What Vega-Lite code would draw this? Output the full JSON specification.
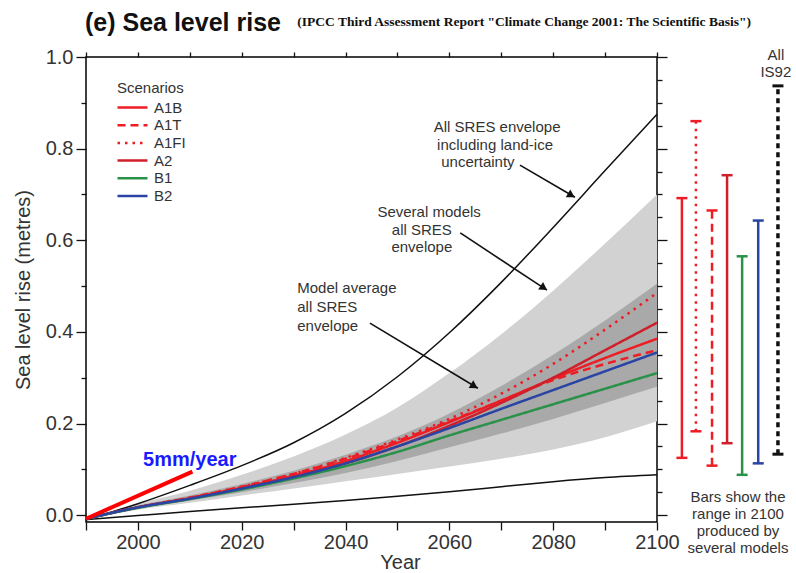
{
  "$schema": "https://vega.github.io/schema/vega-lite/v6.json",
  "width": 571,
  "height": 465,
  "autosize": {"type": "none"},
  "padding": {"left": 86, "top": 57, "right": 139, "bottom": 51},
  "background": "white",
  "title": {"text": "(e) Sea level rise", "anchor": "start", "frame": "group", "orient": "top", "font": "Liberation Sans", "fontSize": 25, "fontWeight": "bold", "color": "#111", "offset": -21, "dx": -1},
  "config": {
    "view": {"stroke": "#000", "strokeWidth": 1.5},
    "font": "Liberation Sans",
    "axis": {"grid": false, "domain": false, "labelFont": "Liberation Sans", "labelFontSize": 20, "labelColor": "#333", "titleFont": "Liberation Sans", "titleFontSize": 20, "titleFontWeight": "normal", "titleColor": "#333", "tickColor": "#111", "tickWidth": 1.3, "labelOverlap": false, "labelFlush": false, "labelBound": false},
    "legend": {"padding": 0, "symbolType": "M-3,0H3", "symbolSize": 100, "symbolStrokeWidth": 2.5, "labelFont": "Liberation Sans", "labelFontSize": 15, "labelColor": "#333", "titleFont": "Liberation Sans", "titleFontSize": 15, "titleFontWeight": "normal", "titleColor": "#333", "rowPadding": 1.7, "titlePadding": 4, "labelOffset": 14, "symbolOffset": 8}
  },
  "datasets": {
    "env": [
      {"year": 1990, "lightLo": -0.008, "lightHi": -0.008, "darkLo": -0.008, "darkHi": -0.008, "lo": -0.01, "hi": -0.01},
      {"year": 2000, "lightLo": 0.012, "lightHi": 0.025, "darkLo": 0.015, "darkHi": 0.021, "lo": -0.001, "hi": 0.025},
      {"year": 2010, "lightLo": 0.027, "lightHi": 0.053, "darkLo": 0.032, "darkHi": 0.043, "lo": 0.008, "hi": 0.065},
      {"year": 2020, "lightLo": 0.043, "lightHi": 0.088, "darkLo": 0.05, "darkHi": 0.068, "lo": 0.016, "hi": 0.108},
      {"year": 2030, "lightLo": 0.058, "lightHi": 0.128, "darkLo": 0.07, "darkHi": 0.097, "lo": 0.024, "hi": 0.158},
      {"year": 2040, "lightLo": 0.074, "lightHi": 0.176, "darkLo": 0.092, "darkHi": 0.132, "lo": 0.032, "hi": 0.222},
      {"year": 2050, "lightLo": 0.09, "lightHi": 0.235, "darkLo": 0.118, "darkHi": 0.172, "lo": 0.041, "hi": 0.302},
      {"year": 2060, "lightLo": 0.106, "lightHi": 0.31, "darkLo": 0.148, "darkHi": 0.222, "lo": 0.051, "hi": 0.398},
      {"year": 2070, "lightLo": 0.123, "lightHi": 0.395, "darkLo": 0.178, "darkHi": 0.282, "lo": 0.062, "hi": 0.508},
      {"year": 2080, "lightLo": 0.143, "lightHi": 0.49, "darkLo": 0.21, "darkHi": 0.35, "lo": 0.073, "hi": 0.628},
      {"year": 2090, "lightLo": 0.17, "lightHi": 0.593, "darkLo": 0.245, "darkHi": 0.425, "lo": 0.082, "hi": 0.752},
      {"year": 2100, "lightLo": 0.205, "lightHi": 0.7, "darkLo": 0.28, "darkHi": 0.505, "lo": 0.088, "hi": 0.875}
    ],
    "scen": [
      {"scenario": "A1B", "year": 1990, "value": -0.008}, {"scenario": "A1B", "year": 2000, "value": 0.017}, {"scenario": "A1B", "year": 2010, "value": 0.037}, {"scenario": "A1B", "year": 2020, "value": 0.06}, {"scenario": "A1B", "year": 2030, "value": 0.086}, {"scenario": "A1B", "year": 2040, "value": 0.118}, {"scenario": "A1B", "year": 2050, "value": 0.158}, {"scenario": "A1B", "year": 2060, "value": 0.203}, {"scenario": "A1B", "year": 2070, "value": 0.25}, {"scenario": "A1B", "year": 2080, "value": 0.298}, {"scenario": "A1B", "year": 2090, "value": 0.343}, {"scenario": "A1B", "year": 2100, "value": 0.385},
      {"scenario": "A1T", "year": 1990, "value": -0.008}, {"scenario": "A1T", "year": 2000, "value": 0.017}, {"scenario": "A1T", "year": 2010, "value": 0.038}, {"scenario": "A1T", "year": 2020, "value": 0.062}, {"scenario": "A1T", "year": 2030, "value": 0.09}, {"scenario": "A1T", "year": 2040, "value": 0.123}, {"scenario": "A1T", "year": 2050, "value": 0.162}, {"scenario": "A1T", "year": 2060, "value": 0.205}, {"scenario": "A1T", "year": 2070, "value": 0.25}, {"scenario": "A1T", "year": 2080, "value": 0.295}, {"scenario": "A1T", "year": 2090, "value": 0.33}, {"scenario": "A1T", "year": 2100, "value": 0.36},
      {"scenario": "A1FI", "year": 1990, "value": -0.008}, {"scenario": "A1FI", "year": 2000, "value": 0.017}, {"scenario": "A1FI", "year": 2010, "value": 0.038}, {"scenario": "A1FI", "year": 2020, "value": 0.062}, {"scenario": "A1FI", "year": 2030, "value": 0.09}, {"scenario": "A1FI", "year": 2040, "value": 0.125}, {"scenario": "A1FI", "year": 2050, "value": 0.165}, {"scenario": "A1FI", "year": 2060, "value": 0.21}, {"scenario": "A1FI", "year": 2070, "value": 0.265}, {"scenario": "A1FI", "year": 2080, "value": 0.33}, {"scenario": "A1FI", "year": 2090, "value": 0.405}, {"scenario": "A1FI", "year": 2100, "value": 0.485},
      {"scenario": "A2", "year": 1990, "value": -0.008}, {"scenario": "A2", "year": 2000, "value": 0.017}, {"scenario": "A2", "year": 2010, "value": 0.036}, {"scenario": "A2", "year": 2020, "value": 0.058}, {"scenario": "A2", "year": 2030, "value": 0.083}, {"scenario": "A2", "year": 2040, "value": 0.113}, {"scenario": "A2", "year": 2050, "value": 0.15}, {"scenario": "A2", "year": 2060, "value": 0.195}, {"scenario": "A2", "year": 2070, "value": 0.245}, {"scenario": "A2", "year": 2080, "value": 0.3}, {"scenario": "A2", "year": 2090, "value": 0.36}, {"scenario": "A2", "year": 2100, "value": 0.42},
      {"scenario": "B1", "year": 1990, "value": -0.008}, {"scenario": "B1", "year": 2000, "value": 0.016}, {"scenario": "B1", "year": 2010, "value": 0.035}, {"scenario": "B1", "year": 2020, "value": 0.056}, {"scenario": "B1", "year": 2030, "value": 0.08}, {"scenario": "B1", "year": 2040, "value": 0.107}, {"scenario": "B1", "year": 2050, "value": 0.138}, {"scenario": "B1", "year": 2060, "value": 0.174}, {"scenario": "B1", "year": 2070, "value": 0.208}, {"scenario": "B1", "year": 2080, "value": 0.242}, {"scenario": "B1", "year": 2090, "value": 0.276}, {"scenario": "B1", "year": 2100, "value": 0.31},
      {"scenario": "B2", "year": 1990, "value": -0.008}, {"scenario": "B2", "year": 2000, "value": 0.017}, {"scenario": "B2", "year": 2010, "value": 0.036}, {"scenario": "B2", "year": 2020, "value": 0.058}, {"scenario": "B2", "year": 2030, "value": 0.083}, {"scenario": "B2", "year": 2040, "value": 0.113}, {"scenario": "B2", "year": 2050, "value": 0.15}, {"scenario": "B2", "year": 2060, "value": 0.19}, {"scenario": "B2", "year": 2070, "value": 0.232}, {"scenario": "B2", "year": 2080, "value": 0.273}, {"scenario": "B2", "year": 2090, "value": 0.314}, {"scenario": "B2", "year": 2100, "value": 0.355}
    ],
    "rate": [{"year": 1990, "value": -0.008}, {"year": 2010.5, "value": 0.095}],
    "arrows": [
      {"x": 2073.6, "y": 0.764, "x2": 2084.2, "y2": 0.694, "hx": 2083.5, "hy": 0.698, "angle": 30},
      {"x": 2062.1, "y": 0.616, "x2": 2078.8, "y2": 0.491, "hx": 2078.2, "hy": 0.496, "angle": 33.5},
      {"x": 2044.7, "y": 0.419, "x2": 2065.5, "y2": 0.277, "hx": 2064.8, "hy": 0.2815, "angle": 31}
    ],
    "notesC": [
      {"text": "All SRES envelope", "year": 2069.2, "value": 0.847},
      {"text": "including land-ice", "year": 2068.8, "value": 0.808},
      {"text": "uncertainty", "year": 2065.5, "value": 0.771},
      {"text": "Several models", "year": 2056.1, "value": 0.662},
      {"text": "all SRES", "year": 2054.7, "value": 0.622},
      {"text": "envelope", "year": 2054.7, "value": 0.585}
    ],
    "notesL": [
      {"text": "Model average", "year": 2030.7, "value": 0.496},
      {"text": "all SRES", "year": 2030.7, "value": 0.454},
      {"text": "envelope", "year": 2030.7, "value": 0.413}
    ],
    "bars": [
      {"scenario": "A1B", "pos": 2104.8, "lo": 0.125, "hi": 0.692},
      {"scenario": "A1FI", "pos": 2107.5, "lo": 0.183, "hi": 0.86},
      {"scenario": "A1T", "pos": 2110.6, "lo": 0.108, "hi": 0.665},
      {"scenario": "A2", "pos": 2113.5, "lo": 0.157, "hi": 0.742},
      {"scenario": "B1", "pos": 2116.4, "lo": 0.088, "hi": 0.565},
      {"scenario": "B2", "pos": 2119.5, "lo": 0.113, "hi": 0.643}
    ],
    "is92": [{"label": "All IS92", "pos": 2123.3, "lo": 0.133, "hi": 0.937}],
    "side": [
      {"text": "All", "pos": 2122.9, "value": 1.004},
      {"text": "IS92", "pos": 2122.9, "value": 0.967},
      {"text": "Bars show the", "pos": 2115.6, "value": 0.039},
      {"text": "range in 2100", "pos": 2115.6, "value": 0.002},
      {"text": "produced by", "pos": 2115.6, "value": -0.035},
      {"text": "several models", "pos": 2115.6, "value": -0.072}
    ],
    "sub": [{"text": "(IPCC Third Assessment Report \"Climate Change 2001: The Scientific Basis\")", "year": 2030.7, "value": 1.076}],
    "rateLabel": [{"text": "5mm/year", "year": 2001.0, "value": 0.12}]
  },
  "resolve": {"axis": {"x": "independent", "y": "independent"}},
  "layer": [
    {
      "data": {"name": "env"},
      "mark": {"type": "area", "color": "#d2d2d2", "interpolate": "monotone"},
      "encoding": {
        "x": {"field": "year", "type": "quantitative", "scale": {"domain": [1990, 2100], "nice": false, "zero": false},
          "axis": {"orient": "top", "values": [1990, 2000, 2010, 2020, 2030, 2040, 2050, 2060, 2070, 2080, 2090, 2100], "labels": false, "title": null, "tickSize": 5}},
        "y": {"field": "lightHi", "type": "quantitative", "scale": {"domain": [-0.015, 1.0], "nice": false, "zero": false},
          "axis": {"orient": "right", "values": [0, 0.05, 0.1, 0.15, 0.2, 0.25, 0.3, 0.35, 0.4, 0.45, 0.5, 0.55, 0.6, 0.65, 0.7, 0.75, 0.8, 0.85, 0.9, 0.95, 1.0], "labels": false, "title": null, "tickSize": {"condition": {"test": "abs(datum.value * 5 - round(datum.value * 5)) < 0.001", "value": 10}, "value": 5}}},
        "y2": {"field": "lightLo"}
      }
    },
    {
      "layer": [
        {
          "data": {"name": "env"},
          "mark": {"type": "area", "color": "#a9a9a9", "interpolate": "monotone"},
          "encoding": {
            "x": {"field": "year", "type": "quantitative",
              "axis": {"orient": "bottom", "values": [1990, 2000, 2010, 2020, 2030, 2040, 2050, 2060, 2070, 2080, 2090, 2100], "labelExpr": "datum.value % 20 === 0 ? '' + datum.value : ''", "title": "Year", "tickSize": 8, "labelPadding": 2, "titlePadding": 0, "titleX": 314}},
            "y": {"field": "darkHi", "type": "quantitative",
              "axis": {"orient": "left", "values": [0, 0.05, 0.1, 0.15, 0.2, 0.25, 0.3, 0.35, 0.4, 0.45, 0.5, 0.55, 0.6, 0.65, 0.7, 0.75, 0.8, 0.85, 0.9, 0.95, 1.0], "labelExpr": "abs(datum.value * 5 - round(datum.value * 5)) < 0.001 ? format(datum.value, '.1f') : ''", "title": "Sea level rise (metres)", "tickSize": {"condition": {"test": "abs(datum.value * 5 - round(datum.value * 5)) < 0.001", "value": 10}, "value": 5}, "labelPadding": 3, "titlePadding": 12}},
            "y2": {"field": "darkLo"}
          }
        },
        {
          "data": {"name": "env"},
          "mark": {"type": "line", "color": "#111", "strokeWidth": 1.5, "interpolate": "monotone"},
          "encoding": {"x": {"field": "year", "type": "quantitative"}, "y": {"field": "hi", "type": "quantitative"}}
        },
        {
          "data": {"name": "env"},
          "mark": {"type": "line", "color": "#111", "strokeWidth": 1.5, "interpolate": "monotone"},
          "encoding": {"x": {"field": "year", "type": "quantitative"}, "y": {"field": "lo", "type": "quantitative"}}
        },
        {
          "data": {"name": "scen"},
          "mark": {"type": "line", "strokeWidth": 2.5, "interpolate": "monotone"},
          "encoding": {
            "x": {"field": "year", "type": "quantitative"},
            "y": {"field": "value", "type": "quantitative"},
            "color": {"field": "scenario", "type": "nominal", "title": "Scenarios", "scale": {"domain": ["A1B", "A1T", "A1FI", "A2", "B1", "B2"], "range": ["#ee1c24", "#ee1c24", "#ee1c24", "#cf1f2b", "#2a9148", "#2a44a3"]}, "legend": {"orient": "none", "legendX": 31, "legendY": 24}},
            "strokeDash": {"field": "scenario", "type": "nominal", "title": "Scenarios", "scale": {"domain": ["A1B", "A1T", "A1FI", "A2", "B1", "B2"], "range": [[1, 0], [8, 5], [2.5, 5], [1, 0], [1, 0], [1, 0]]}, "legend": {"orient": "none", "legendX": 31, "legendY": 24}}
          }
        },
        {
          "data": {"name": "rate"},
          "mark": {"type": "line", "color": "#ff0000", "strokeWidth": 4, "clip": false},
          "encoding": {"x": {"field": "year", "type": "quantitative"}, "y": {"field": "value", "type": "quantitative"}}
        },
        {
          "data": {"name": "arrows"},
          "mark": {"type": "rule", "color": "#111", "strokeWidth": 1.6},
          "encoding": {"x": {"field": "x", "type": "quantitative"}, "y": {"field": "y", "type": "quantitative"}, "x2": {"field": "x2"}, "y2": {"field": "y2"}}
        },
        {
          "data": {"name": "arrows"},
          "mark": {"type": "point", "shape": "triangle-right", "filled": true, "color": "#111", "size": 80, "opacity": 1},
          "encoding": {"x": {"field": "hx", "type": "quantitative"}, "y": {"field": "hy", "type": "quantitative"}, "angle": {"field": "angle", "type": "quantitative", "scale": null}}
        },
        {
          "data": {"name": "notesC"},
          "mark": {"type": "text", "align": "center", "baseline": "middle", "fontSize": 15, "color": "#333"},
          "encoding": {"x": {"field": "year", "type": "quantitative"}, "y": {"field": "value", "type": "quantitative"}, "text": {"field": "text"}}
        },
        {
          "data": {"name": "notesL"},
          "mark": {"type": "text", "align": "left", "baseline": "middle", "fontSize": 15, "color": "#333"},
          "encoding": {"x": {"field": "year", "type": "quantitative"}, "y": {"field": "value", "type": "quantitative"}, "text": {"field": "text"}}
        },
        {
          "data": {"name": "bars"},
          "mark": {"type": "rule", "strokeWidth": 2.5, "clip": false},
          "encoding": {
            "x": {"field": "pos", "type": "quantitative"},
            "y": {"field": "lo", "type": "quantitative"},
            "y2": {"field": "hi"},
            "color": {"field": "scenario", "type": "nominal", "title": "Scenarios"},
            "strokeDash": {"field": "scenario", "type": "nominal", "title": "Scenarios"}
          }
        },
        {
          "data": {"name": "bars"},
          "mark": {"type": "tick", "orient": "horizontal", "size": 11, "thickness": 2.5, "clip": false, "opacity": 1},
          "encoding": {"x": {"field": "pos", "type": "quantitative"}, "y": {"field": "hi", "type": "quantitative"}, "color": {"field": "scenario", "type": "nominal", "title": "Scenarios"}}
        },
        {
          "data": {"name": "bars"},
          "mark": {"type": "tick", "orient": "horizontal", "size": 11, "thickness": 2.5, "clip": false, "opacity": 1},
          "encoding": {"x": {"field": "pos", "type": "quantitative"}, "y": {"field": "lo", "type": "quantitative"}, "color": {"field": "scenario", "type": "nominal", "title": "Scenarios"}}
        },
        {
          "data": {"name": "is92"},
          "mark": {"type": "rule", "strokeWidth": 3.5, "color": "#111", "strokeDash": [5, 4], "clip": false},
          "encoding": {"x": {"field": "pos", "type": "quantitative"}, "y": {"field": "lo", "type": "quantitative"}, "y2": {"field": "hi"}}
        },
        {
          "data": {"name": "is92"},
          "mark": {"type": "tick", "orient": "horizontal", "size": 11, "thickness": 3, "color": "#111", "clip": false, "opacity": 1},
          "encoding": {"x": {"field": "pos", "type": "quantitative"}, "y": {"field": "hi", "type": "quantitative"}}
        },
        {
          "data": {"name": "is92"},
          "mark": {"type": "tick", "orient": "horizontal", "size": 11, "thickness": 3, "color": "#111", "clip": false, "opacity": 1},
          "encoding": {"x": {"field": "pos", "type": "quantitative"}, "y": {"field": "lo", "type": "quantitative"}}
        },
        {
          "data": {"name": "side"},
          "mark": {"type": "text", "align": "center", "baseline": "middle", "fontSize": 15, "color": "#333", "clip": false},
          "encoding": {"x": {"field": "pos", "type": "quantitative"}, "y": {"field": "value", "type": "quantitative"}, "text": {"field": "text"}}
        },
        {
          "data": {"name": "sub"},
          "mark": {"type": "text", "align": "left", "baseline": "middle", "font": "Liberation Serif", "fontWeight": "bold", "fontSize": 13.5, "color": "#111", "clip": false},
          "encoding": {"x": {"field": "year", "type": "quantitative"}, "y": {"field": "value", "type": "quantitative"}, "text": {"field": "text"}}
        },
        {
          "data": {"name": "rateLabel"},
          "mark": {"type": "text", "align": "left", "baseline": "middle", "fontSize": 20, "fontWeight": "bold", "color": "#1a1aff"},
          "encoding": {"x": {"field": "year", "type": "quantitative"}, "y": {"field": "value", "type": "quantitative"}, "text": {"field": "text"}}
        }
      ]
    }
  ]
}
